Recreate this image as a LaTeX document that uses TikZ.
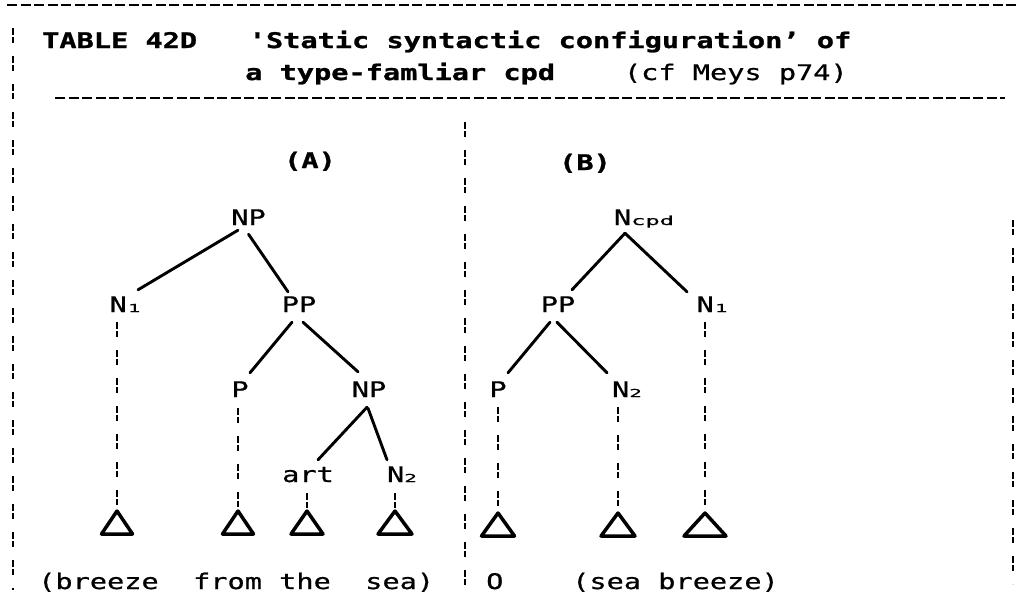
\documentclass[tikz,border=0pt]{standalone}
\usepackage{fontspec}
\usetikzlibrary{calc}
% printer-style monospaced faces: the main one and a wider, smaller one for subscripts
\newfontfamily\prfont[FakeStretch=1.33,
  UprightFeatures={FakeBold=0.7},
  BoldFeatures={FakeBold=1.2}]{DejaVu Sans Mono}
\newfontfamily\subfont[FakeStretch=1.9, FakeBold=0.6]{DejaVu Sans Mono}
\newcommand\sub[1]{{\subfont\fontsize{11}{11}\selectfont #1}}
\newcommand\subw[1]{{\subfont\fontsize{12.5}{12.5}\selectfont #1}}

\tikzset{
  lbl/.style={inner sep=0pt, text height=15pt, text depth=0pt, anchor=base,
              font=\prfont\fontsize{21.5}{24}\selectfont},
  txt/.style={inner sep=0pt, anchor=base west,
              font=\prfont\fontsize{21.5}{24}\selectfont},
  edge/.style={line width=2.9pt, line cap=round},
  guide/.style={line width=2.8pt, dash pattern=on 6.5pt off 2pt on 6.5pt off 13pt},
  rule/.style={line width=1.6pt, dash pattern=on 10pt off 3.5pt},
  tri/.style={line width=3.5pt, line join=round}
}

\begin{document}
\begin{tikzpicture}[x=1pt,y=-1pt]
\useasboundingbox (0,0) rectangle (1016,606);

% frame: top rule, header rule, left border, centre divider, right border
\draw[rule] (7,5) -- (1016,5);
\draw[rule, line width=2.2pt] (55,98) -- (1005,98);
\draw[guide] (13,28) -- (13,590);
\draw[guide] (465,122) -- (465,590);
\draw[guide] (1013,220) -- (1013,584);

% heading
\node[txt] (title1) at (42,48) {\bfseries TABLE 42D\ \ \ 'Static syntactic configuration’ of};
\node[txt] (title2) at (245,80) {\bfseries a type-famliar cpd\mdseries\ \ \ \ (cf Meys p74)};

% panel captions
\node[lbl] (capA) at (310,168) {\bfseries (A)};
\node[lbl] (capB) at (585,170) {\bfseries (B)};

% tree (A)
\node[lbl] (npA)  at (248.5,225) {NP};
\node[lbl] (n1A)  at (125,312)   {N\kern1pt\sub{1}};
\node[lbl] (ppA)  at (299,312)   {PP};
\node[lbl] (pA)   at (240,397)   {P};
\node[lbl] (np2A) at (369,397)   {NP};
\node[lbl] (artA) at (308,482)   {art};
\node[lbl] (n2A)  at (402,482)   {N\sub{2}};

% tree (B)
\node[lbl] (ncpd) at (644,225) {N\subw{cpd}};
\node[lbl] (ppB)  at (558,312) {PP};
\node[lbl] (n1B)  at (712,312) {N\kern1pt\sub{1}};
\node[lbl] (pB)   at (498,397) {P};
\node[lbl] (n2B)  at (627,397) {N\sub{2}};

% triangle apexes
\coordinate (ta1) at (117,511);
\coordinate (ta2) at (238,511);
\coordinate (ta3) at (307,511);
\coordinate (ta4) at (395,511);
\coordinate (tb1) at (498,513);
\coordinate (tb2) at (618,513);
\coordinate (tb3) at (705,513);

\draw[tri] (ta1) -- ++(-15.5,23) -- ++(31,0) -- cycle;
\draw[tri] (ta2) -- ++(-15.5,23) -- ++(31,0) -- cycle;
\draw[tri] (ta3) -- ++(-16,23) -- ++(32,0) -- cycle;
\draw[tri] (ta4) -- ++(-17,23) -- ++(34,0) -- cycle;
\draw[tri] (tb1) -- ++(-16.5,23) -- ++(33,0) -- cycle;
\draw[tri] (tb2) -- ++(-17,23) -- ++(34,0) -- cycle;
\draw[tri] (tb3) -- ++(-21,23) -- ++(42,0) -- cycle;

% branches of (A)
\draw[edge] ($(npA.south)+(-10.5,5)$) -- ($(n1A.north)+(13,-7)$);
\draw[edge] ($(npA.south)+(0,9)$)     -- ($(ppA.north)+(-11,-5)$);
\draw[edge] ($(ppA.south)+(-7,10)$)   -- ($(pA.north)+(10,-9)$);
\draw[edge] ($(ppA.south)+(4,10)$)    -- ($(np2A.north)+(-11,-10)$);
\draw[edge] ($(np2A.south)+(-2,10)$)  -- ($(artA.north)+(10,-7)$);
\draw[edge] ($(np2A.south)+(-1,11)$)  -- ($(n2A.north)+(-15,-7)$);

% branches of (B)
\draw[edge] ($(ncpd.south)+(-19,8)$)  -- ($(ppB.north)+(14,-7)$);
\draw[edge] ($(ncpd.south)+(-19,8)$)  -- ($(n1B.north)+(-25,-5)$);
\draw[edge] ($(ppB.south)+(-8,10)$)   -- ($(pB.north)+(10,-9)$);
\draw[edge] ($(ppB.south)+(-1,10)$)   -- ($(n2B.north)+(-20,-9)$);

% dashed leads down to the triangles
\draw[guide, shorten <=10pt, shorten >=3pt] (ta1 |- n1A.south)  -- (ta1);
\draw[guide, shorten <=11pt, shorten >=2pt] (ta2 |- pA.south)   -- (ta2);
\draw[guide, shorten <=11pt, shorten >=2pt] (ta3 |- artA.south) -- (ta3);
\draw[guide, shorten <=11pt, shorten >=2pt] (ta4 |- n2A.south)  -- (ta4);
\draw[guide, shorten <=10pt, shorten >=4pt] (tb1 |- pB.south)   -- (tb1);
\draw[guide, shorten <=10pt, shorten >=4pt] (tb2 |- n2B.south)  -- (tb2);
\draw[guide, shorten <=10pt, shorten >=4pt] (tb3 |- n1B.south)  -- (tb3);

% glosses
\node[txt] (glossA)  at (38,589)  {(breeze\ \ from the\ \ sea)};
\node[txt] (zeroB)   at (486,589) {O};
\node[txt] (glossB)  at (572,589) {(sea breeze)};
\end{tikzpicture}
\end{document}
